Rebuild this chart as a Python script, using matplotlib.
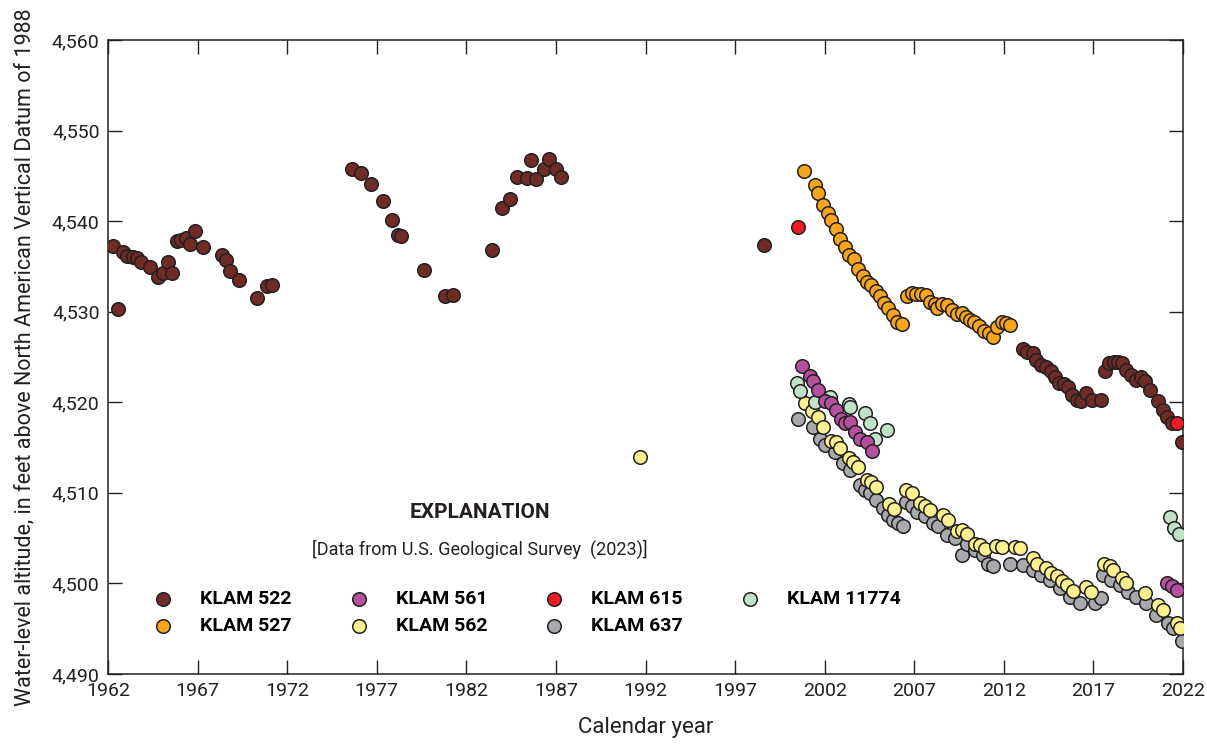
import matplotlib

matplotlib.use("Agg")
import matplotlib.pyplot as plt
from matplotlib.ticker import FuncFormatter

plt.rcParams["font.family"] = ["Liberation Sans Narrow", "Roboto", "DejaVu Sans"]

# KLAM 522
k522_year = [1962.30, 1962.57, 1962.82, 1963.08, 1963.41, 1963.60, 1963.82, 1964.34, 1964.80, 1965.05,
             1965.33, 1965.59, 1965.83, 1966.10, 1966.35, 1966.58, 1966.85, 1967.32, 1968.34, 1968.58,
             1968.80, 1969.33, 1970.33, 1970.85, 1971.17,
             1975.60, 1976.10, 1976.68, 1977.33, 1977.83, 1978.17, 1978.35, 1979.65, 1980.80, 1981.27,
             1983.45, 1984.00, 1984.43, 1984.84, 1985.36, 1985.60, 1985.87, 1986.33, 1986.61, 1986.98,
             1987.28, 1998.60,
             2013.08, 2013.27, 2013.64, 2013.82, 2014.10, 2014.38, 2014.62, 2014.85, 2015.09, 2015.35,
             2015.59, 2015.78, 2016.06, 2016.33, 2016.61, 2016.90, 2017.40, 2017.63, 2017.88, 2018.14,
             2018.38, 2018.62, 2018.84, 2019.12, 2019.40, 2019.64, 2019.87, 2020.15, 2020.61, 2020.89,
             2021.11, 2021.36, 2021.92]
k522_alt = [4537.25, 4530.3, 4536.6, 4536.1, 4536.0, 4535.9, 4535.5, 4534.9, 4533.8, 4534.3,
            4535.5, 4534.3, 4537.8, 4537.9, 4538.1, 4537.5, 4538.9, 4537.1, 4536.3, 4535.7,
            4534.5, 4533.5, 4531.5, 4532.8, 4533.0,
            4545.8, 4545.35, 4544.1, 4542.25, 4540.1, 4538.5, 4538.4, 4534.6, 4531.7, 4531.8,
            4536.8, 4541.4, 4542.4, 4544.9, 4544.8, 4546.75, 4544.65, 4545.75, 4546.9, 4545.8,
            4544.9, 4537.4,
            4525.85, 4525.6, 4525.4, 4524.7, 4524.1, 4523.9, 4523.5, 4522.8, 4522.1, 4522.0,
            4521.65, 4520.8, 4520.25, 4520.1, 4521.0, 4520.25, 4520.3, 4523.4, 4524.3, 4524.5,
            4524.5, 4524.3, 4523.6, 4523.0, 4522.45, 4522.8, 4522.3, 4521.4, 4520.1, 4519.1,
            4518.4, 4517.7, 4515.65]

# KLAM 527
k527_year = [2000.86, 2001.45, 2001.64, 2001.88, 2002.16, 2002.38, 2002.66, 2002.85, 2003.13, 2003.37,
             2003.63, 2003.87, 2004.15, 2004.37, 2004.61, 2004.86, 2005.08, 2005.30, 2005.54, 2005.79,
             2006.05, 2006.34,
             2006.60, 2006.85, 2007.09, 2007.35, 2007.63, 2007.87, 2008.15, 2008.28, 2008.57, 2008.83,
             2009.08, 2009.36, 2009.64, 2009.88, 2010.10, 2010.34, 2010.60, 2010.88, 2011.18, 2011.40,
             2011.63, 2011.87, 2012.10, 2012.37]
k527_alt = [4545.5, 4544.0, 4543.1, 4541.8, 4540.9, 4540.1, 4539.1, 4538.0, 4537.1, 4536.3,
            4535.8, 4534.7, 4533.9, 4533.3, 4533.0, 4532.3, 4531.7, 4531.0, 4530.4, 4529.6,
            4528.9, 4528.6,
            4531.7, 4532.1, 4532.0, 4532.0, 4531.8, 4531.1, 4530.85, 4530.4, 4530.9, 4530.7,
            4530.2, 4529.8, 4529.9, 4529.45, 4529.1, 4528.9, 4528.45, 4527.9, 4527.6, 4527.25,
            4528.3, 4528.9, 4528.8, 4528.5]

# KLAM 561
k561_year = [2000.71, 2001.18, 2001.36, 2001.64, 2002.01, 2002.35, 2002.63, 2002.90, 2003.13, 2003.40,
             2003.69, 2003.96, 2004.34, 2004.65, 2021.08, 2021.36, 2021.64]
k561_alt = [4524.0, 4522.9, 4522.3, 4521.4, 4520.1, 4519.9, 4519.15, 4518.2, 4517.7, 4517.85,
            4516.75, 4516.0, 4515.65, 4514.65, 4500.1, 4499.7, 4499.3]

# KLAM 562
k562_year = [1991.70, 2000.90, 2001.32, 2001.64, 2001.88, 2002.38, 2002.66, 2002.85, 2003.37, 2003.60,
             2003.87, 2004.34, 2004.61, 2004.86, 2005.60, 2005.88, 2006.53, 2006.85, 2007.31, 2007.59,
             2007.87, 2008.61, 2008.89, 2009.36, 2009.64, 2009.92, 2010.38, 2010.66, 2010.94, 2011.55,
             2011.87, 2012.61, 2012.90, 2013.60, 2013.86, 2014.38, 2014.66, 2014.94, 2015.22, 2015.53,
             2015.87, 2016.61, 2016.89, 2017.58, 2017.91, 2018.10, 2018.57, 2018.84, 2019.87, 2020.61,
             2020.86, 2021.64, 2021.83]
k562_alt = [4514.0, 4519.9, 4519.0, 4518.35, 4517.25, 4515.7, 4515.65, 4514.9, 4513.8, 4513.45,
            4512.8, 4511.4, 4511.2, 4510.6, 4508.8, 4508.2, 4510.3, 4509.95, 4508.85, 4508.55,
            4508.1, 4507.55, 4507.0, 4505.8, 4505.9, 4505.45, 4504.4, 4504.2, 4503.8, 4504.1,
            4504.0, 4504.05, 4503.9, 4502.8, 4502.2, 4501.7, 4501.2, 4500.8, 4500.3, 4499.8,
            4499.2, 4499.6, 4499.0, 4502.1, 4501.9, 4501.5, 4500.6, 4500.0, 4498.9, 4497.6,
            4497.1, 4495.6, 4495.05]

# KLAM 615
k615_year = [2000.50, 2021.64]
k615_alt = [4539.35, 4517.75]

# KLAM 637
k637_year = [2000.52, 2001.36, 2001.73, 2002.01, 2002.57, 2003.03, 2003.40, 2003.96, 2004.24, 2004.52,
             2004.89, 2005.26, 2005.54, 2005.82, 2006.10, 2006.38, 2006.53, 2006.85, 2007.13, 2007.59,
             2008.05, 2008.33, 2008.80, 2009.27, 2009.64, 2009.92, 2010.38, 2010.85, 2011.12, 2011.37,
             2012.34, 2013.08, 2013.64, 2014.10, 2014.57, 2015.12, 2015.68, 2016.24, 2017.08, 2017.45,
             2017.54, 2018.00, 2018.47, 2018.93, 2019.40, 2019.96, 2020.52, 2021.17, 2021.45, 2021.92]
k637_alt = [4518.1, 4517.3, 4516.0, 4515.3, 4514.55, 4513.3, 4512.5, 4510.9, 4510.3, 4509.95,
            4509.2, 4508.3, 4507.55, 4507.0, 4506.65, 4506.35, 4509.0, 4508.5, 4507.9, 4507.4,
            4506.65, 4506.3, 4505.35, 4505.0, 4503.1, 4504.4, 4503.7, 4503.1, 4502.2, 4501.9,
            4502.2, 4502.0, 4501.5, 4500.9, 4500.4, 4499.45, 4498.55, 4497.8, 4497.8, 4498.35,
            4500.9, 4500.4, 4499.8, 4499.1, 4498.55, 4497.8, 4496.5, 4495.6, 4495.05, 4493.6]

# KLAM 11774
k11774_year = [2000.43, 2000.65, 2001.45, 2002.29, 2003.37, 2003.40, 2004.24, 2004.52, 2004.80, 2005.49,
               2021.26, 2021.50, 2021.75]
k11774_alt = [4522.1, 4521.2, 4520.0, 4520.55, 4519.8, 4519.45, 4518.8, 4517.75, 4516.0, 4516.95,
              4507.3, 4506.1, 4505.45]

x_ticks = [1962, 1967, 1972, 1977, 1982, 1987, 1992, 1997, 2002, 2007, 2012, 2017, 2022]
y_ticks = [4490, 4500, 4510, 4520, 4530, 4540, 4550, 4560]

EDGE = "#231f20"

# drawing order (bottom to top), legend order is set separately
series = [
    ("KLAM 637", k637_year, k637_alt, "#a7a9ac"),
    ("KLAM 562", k562_year, k562_alt, "#fdf18f"),
    ("KLAM 11774", k11774_year, k11774_alt, "#c0e2c9"),
    ("KLAM 561", k561_year, k561_alt, "#b5509f"),
    ("KLAM 527", k527_year, k527_alt, "#f7a51c"),
    ("KLAM 522", k522_year, k522_alt, "#6f2c27"),
    ("KLAM 615", k615_year, k615_alt, "#ec1c24"),
]
legend_order = ["KLAM 522", "KLAM 527", "KLAM 561", "KLAM 562", "KLAM 615", "KLAM 637", "KLAM 11774"]

fig = plt.figure(figsize=(12.07, 7.47), dpi=100)
ax = fig.add_axes([108 / 1207, 73 / 747, 1075 / 1207, 634 / 747])

handles = {}
for name, xs, ys, color in series:
    handles[name] = ax.scatter(xs, ys, s=95, c=color, edgecolors=EDGE, linewidths=1.1,
                               label=name, zorder=3)

ax.set_xlim(1962, 2022)
ax.set_ylim(4490, 4560)
ax.set_xticks(x_ticks)
ax.set_yticks(y_ticks)
ax.yaxis.set_major_formatter(FuncFormatter(lambda v, p: f"{int(v):,}"))
ax.tick_params(direction="in", length=10, width=1, colors=EDGE, labelsize=14,
               top=True, right=True, pad=6)
for sp in ax.spines.values():
    sp.set_color(EDGE)
    sp.set_linewidth(1.1)

ax.set_xlabel("Calendar year", fontsize=16, color=EDGE, labelpad=12)
ax.set_ylabel("Water-level altitude, in feet above North American Vertical Datum of 1988",
              fontsize=15.5, color=EDGE, labelpad=12)

ax.text(0.346, 0.254, "EXPLANATION", transform=ax.transAxes, ha="center", va="center",
        fontsize=15, fontweight="bold", color=EDGE)
ax.text(0.346, 0.196, "[Data from U.S. Geological Survey  (2023)]", transform=ax.transAxes,
        ha="center", va="center", fontsize=13, color=EDGE)

leg = ax.legend([handles[n] for n in legend_order], legend_order, ncol=4, frameon=False,
                loc="upper left", bbox_to_anchor=(0.017, 0.16),
                handletextpad=0.9, columnspacing=2.45, labelspacing=0.45,
                prop={"weight": "bold", "size": 14})

fig.savefig("out.png", dpi=100)
